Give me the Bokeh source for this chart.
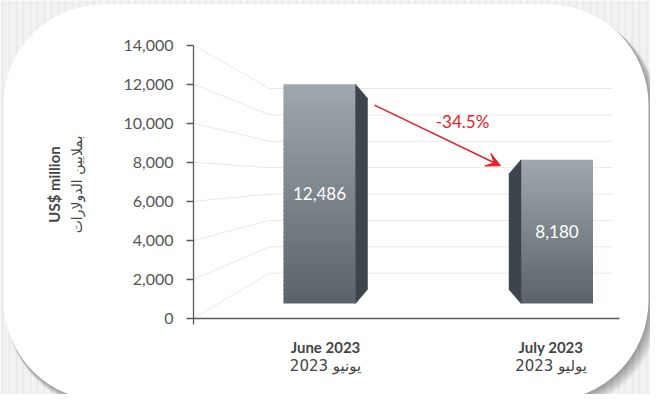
import numpy as np
from bokeh.plotting import figure
from bokeh.models import (LinearAxis, FixedTicker, BoxAnnotation, Arrow, VeeHead, Range1d)
from bokeh.core.properties import value
from bokeh.embed import file_html
from bokeh.resources import INLINE

# ---------------- data ----------------
categories_en = ["June 2023", "July 2023"]
categories_ar = ["يونيو 2023", "يوليو 2023"]
values = [12486, 8180]
value_labels = ["12,486", "8,180"]
y_ticks = [0, 2000, 4000, 6000, 8000, 10000, 12000, 14000]
y_tick_labels = ["0", "2,000", "4,000", "6,000", "8,000", "10,000", "12,000", "14,000"]
axis_title_en = "US$ million"
axis_title_ar = "بملايين الدولارات"

# ---------------- layout constants ----------------
W, H = 650, 394
PX = 14000 / 273.3            # data units per screen pixel
Y0_PX = 326                    # page pixel row of value 0


def ypx(py):
    return (Y0_PX - py) * PX


FONT = value("Lato, DejaVu Sans")
AR_FONT = value("DejaVu Sans, Noto Sans")
AXIS_X = 201
BACK_X = 277
GRID_END = 620
BACK0 = ypx(280.7)
BACK_SCALE = (ypx(96) - ypx(280.7)) / 14000
FLOOR = ypx(311)
DEPTH = 0.9                     # perspective shrink of bar heights
BAR_CENTERS = [333, 558.5]
VANISH_X = 445
FRONT_W, SIDE_W = 72, 12
SIDE_DY = 14 * PX

p = figure(width=W, height=H, x_range=Range1d(8, 658), y_range=Range1d(ypx(402), ypx(8)),
           x_axis_location=None, y_axis_location=None, toolbar_location=None,
           output_backend="svg", min_border=0)
p.grid.visible = False
p.outline_line_color = None
p.background_fill_color = "#f2f2f2"
p.border_fill_color = "#f2f2f2"

# faint vertical texture of the page background
tex_x = list(np.arange(10, 658, 7))
p.segment(x0=tex_x, y0=[ypx(0)] * len(tex_x), x1=tex_x, y1=[ypx(410)] * len(tex_x),
          line_color="#e9e9e9", line_width=2, level="underlay")

# card with soft shadow
for i in range(1, 11):
    p.add_layout(BoxAnnotation(left=11 + i * 0.3, right=656 + i * 1.0, top=ypx(12 + i * 0.8),
                               bottom=ypx(408 + i * 0.8), border_radius=100,
                               fill_color="black", fill_alpha=0.04, line_color=None,
                               level="underlay"))
p.add_layout(BoxAnnotation(left=11, right=656, top=ypx(12), bottom=ypx(408), border_radius=100,
                           fill_color="white", fill_alpha=1, line_color=None, level="underlay"))

# perspective grid lines
gx, gy = [], []
for v in y_ticks:
    b = BACK0 + v * BACK_SCALE
    gx.append([AXIS_X, BACK_X, GRID_END])
    gy.append([v, b, b])
p.multi_line(gx, gy, line_color="#e9e9e9", line_width=1)

# bars (front face with vertical gradient + side face)
top_col = np.array([0xa0, 0xa8, 0xad])
bot_col = np.array([0x5a, 0x63, 0x69])
N = 50
ql, qr, qb, qt, qc = [], [], [], [], []
sx, sy = [], []
tx, ty = [], []
for c, v in zip(BAR_CENTERS, values):
    top = FLOOR + v * DEPTH
    if c < VANISH_X:
        fl, fr = c - 42, c - 42 + FRONT_W
        sx.append([fr, fr + SIDE_W, fr + SIDE_W, fr])
    else:
        fr, fl = c + 42, c + 42 - FRONT_W
        sx.append([fl, fl - SIDE_W, fl - SIDE_W, fl])
    sy.append([top, top - SIDE_DY, FLOOR + SIDE_DY, FLOOR])
    edges = np.linspace(FLOOR, top, N + 1)
    for k in range(N):
        t = (k + 0.5) / N
        col = bot_col + (top_col - bot_col) * t
        ql.append(fl); qr.append(fr); qb.append(edges[k])
        qt.append(min(edges[k + 1] + 1.5 * PX, top))
        qc.append("#%02x%02x%02x" % tuple(int(round(x)) for x in col))
    tx.append((fl + fr) / 2)
    ty.append((FLOOR + top) / 2)

p.quad(left=ql, right=qr, bottom=qb, top=qt, fill_color=qc, line_color=None)
p.patches(sx, sy, fill_color="#3d454c", line_color="#3d454c", line_width=0.5)
p.text(x=tx, y=ty, text=value_labels, text_color="white", text_font=FONT,
       text_font_size="17px", text_align="center", text_baseline="middle")

# change arrow
tops = [FLOOR + v * DEPTH for v in values]
xs0, ys0 = 382, tops[0] - 21 * PX
xs1, ys1 = 508, tops[1] - 6 * PX
p.add_layout(Arrow(end=VeeHead(size=14, fill_color="#e5202a", line_color="#e5202a"),
                   x_start=xs0, y_start=ys0, x_end=xs1, y_end=ys1,
                   line_color="#e5202a", line_width=1.5))
change = (values[1] - values[0]) / values[0] * 100
p.text(x=[(xs0 + xs1) / 2 + 25], y=[(ys0 + ys1) / 2 + 14 * PX], text=["%.1f%%" % change],
       text_color="#e5202a", text_font=FONT, text_font_size="17px",
       text_align="center", text_baseline="middle")

# axes
yaxis = LinearAxis(ticker=FixedTicker(ticks=y_ticks), fixed_location=AXIS_X,
                   bounds=(0, 14000),
                   major_label_overrides={t: l for t, l in zip(y_ticks, y_tick_labels)})
yaxis.axis_line_color = "#5a5a5a"
yaxis.axis_line_width = 1.3
yaxis.major_tick_line_color = "#5a5a5a"
yaxis.major_tick_line_width = 1.3
yaxis.major_tick_out = 7
yaxis.major_tick_in = 0
yaxis.minor_tick_out = 0
yaxis.major_label_standoff = 13
yaxis.major_label_text_font = "Lato"
yaxis.major_label_text_font_size = "16px"
yaxis.major_label_text_color = "#555555"
p.add_layout(yaxis, "left")

xaxis = LinearAxis(ticker=FixedTicker(ticks=BAR_CENTERS), fixed_location=0,
                   bounds=(AXIS_X, 627),
                   major_label_overrides={c: l for c, l in zip(BAR_CENTERS, categories_en)})
xaxis.axis_line_color = "#5a5a5a"
xaxis.axis_line_width = 1.3
xaxis.major_tick_out = 0
xaxis.major_tick_in = 0
xaxis.minor_tick_out = 0
xaxis.major_label_standoff = 19
xaxis.major_label_text_font = "Lato"
xaxis.major_label_text_font_style = "bold"
xaxis.major_label_text_font_size = "15px"
xaxis.major_label_text_color = "#444444"
p.add_layout(xaxis, "below")
p.segment(x0=[AXIS_X], y0=[0], x1=[AXIS_X], y1=[-6 * PX], line_color="#5a5a5a", line_width=1.3)

p.text(x=BAR_CENTERS, y=[ypx(373)] * 2, text=categories_ar, text_color="#444444",
       text_font=AR_FONT, text_font_size="15px", text_align="center", text_baseline="middle")

# y-axis title (two lines)
p.text(x=[61], y=[ypx(192)], text=[axis_title_en], angle=np.pi / 2, text_color="#444444",
       text_font=FONT, text_font_style="bold", text_font_size="15px",
       text_align="center", text_baseline="middle")
p.text(x=[84], y=[ypx(192)], text=[axis_title_ar], angle=np.pi / 2, text_color="#444444",
       text_font=AR_FONT, text_font_size="14px", text_align="center", text_baseline="middle")

open("out.html", "w").write(file_html(p, INLINE))
